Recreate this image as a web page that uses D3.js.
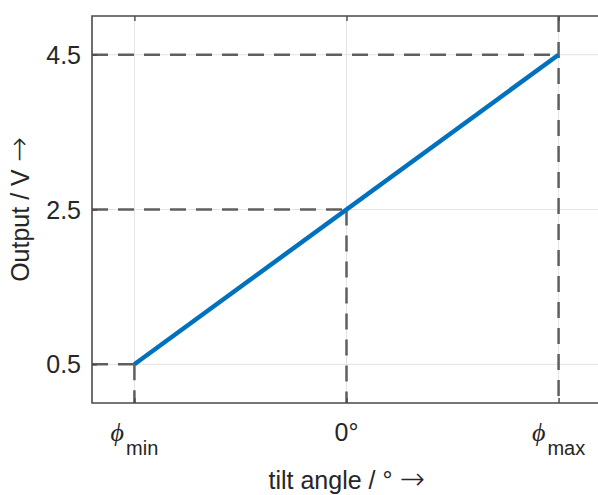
<!DOCTYPE html>
<html>
<head>
<meta charset="utf-8">
<script src="https://cdn.jsdelivr.net/npm/d3@7"></script>
<style>
  body { margin: 0; background: #fff; }
  svg { display: block; font-family: "Liberation Sans", Arial, sans-serif; }
  .arrow { font-family: "DejaVu Sans", sans-serif; font-weight: 200; }
</style>
</head>
<body>
<div id="container"></div>
<script>
// data
const tilt = [-1, 1];          // phi_min .. phi_max (normalised)
const output = [0.5, 4.5];     // volts
const xTicks = [-1, 0, 1];
const xTickSubs = ["min", "", "max"];
const yTicks = [0.5, 2.5, 4.5];
const guideX = [-1, 0, 1];
const guideY = [0.5, 2.5, 4.5];

const w = 598, h = 495;
const padL = 92, padT = 16, padB = 403, padR = 601;

const xScale = d3.scaleLinear().domain([-1.2, 1.2]).range([padL, padR]);
const yScale = d3.scaleLinear().domain([0, 5]).range([padB, padT]);

const svg = d3.select("#container").append("svg")
  .attr("width", w).attr("height", h);

// grid
svg.append("g").selectAll("line").data(xTicks).enter().append("line")
  .attr("x1", d => xScale(d)).attr("x2", d => xScale(d))
  .attr("y1", padT).attr("y2", padB)
  .attr("stroke", "#e3e3e3").attr("stroke-width", 1);
svg.append("g").selectAll("line").data(yTicks).enter().append("line")
  .attr("y1", d => yScale(d)).attr("y2", d => yScale(d))
  .attr("x1", padL).attr("x2", padR)
  .attr("stroke", "#e3e3e3").attr("stroke-width", 1);

// dashed guides
const guides = svg.append("g")
  .attr("stroke", "#5f5f5f").attr("stroke-width", 2.5)
  .attr("stroke-dasharray", "16,10").attr("fill", "none");
guideX.forEach((gx, i) => {
  const gy = guideY[i];
  guides.append("line")
    .attr("x1", padL).attr("x2", xScale(gx))
    .attr("y1", yScale(gy)).attr("y2", yScale(gy));
  guides.append("line")
    .attr("x1", xScale(gx)).attr("x2", xScale(gx))
    .attr("y1", i === guideX.length - 1 ? padT : yScale(gy)).attr("y2", padB);
});

// characteristic line
svg.append("path")
  .datum(tilt.map((t, i) => [t, output[i]]))
  .attr("d", d3.line().x(d => xScale(d[0])).y(d => yScale(d[1])))
  .attr("fill", "none").attr("stroke", "#0072BD").attr("stroke-width", 4.5);

// box + inward ticks
const axisCol = "#4a4a4a";
svg.append("path")
  .attr("d", `M${padR},${padT}H${padL}V${padB}H${padR}`)
  .attr("fill", "none").attr("stroke", axisCol).attr("stroke-width", 1.6);

const xAxisB = d3.axisBottom(xScale).tickValues(xTicks).tickSize(-5).tickFormat("");
const xAxisT = d3.axisTop(xScale).tickValues(xTicks).tickSize(-5).tickFormat("");
const yAxisL = d3.axisLeft(yScale).tickValues(yTicks).tickSize(-5).tickFormat("");
[[xAxisB, `translate(0,${padB})`], [xAxisT, `translate(0,${padT})`], [yAxisL, `translate(${padL},0)`]]
  .forEach(([ax, tr]) => {
    const g = svg.append("g").attr("transform", tr).call(ax);
    g.select(".domain").remove();
    g.selectAll("line").attr("stroke", axisCol).attr("stroke-width", 1.4);
  });

// y tick labels
svg.append("g").selectAll("text").data(yTicks).enter().append("text")
  .attr("x", 81).attr("y", d => yScale(d))
  .attr("dy", "0.36em").attr("text-anchor", "end")
  .attr("font-size", 25).attr("fill", "#262626")
  .text(d => d.toFixed(1));

// x tick labels
const xl = svg.append("g").selectAll("text").data(xTicks).enter().append("text")
  .attr("x", d => xScale(d)).attr("y", 441)
  .attr("text-anchor", "middle").attr("fill", "#262626");
xl.each(function (d, i) {
  const t = d3.select(this);
  if (xTickSubs[i] === "") {
    t.attr("font-size", 25).text("0°");
  } else {
    t.append("tspan").attr("font-family", "'Liberation Serif', serif")
      .attr("font-style", "italic").attr("font-size", 26).text("ϕ");
    t.append("tspan").attr("font-size", 20).attr("dy", 14).attr("dx", 2).text(xTickSubs[i]);
  }
});

// axis titles
const xt = svg.append("text")
  .attr("x", xScale(0)).attr("y", 489)
  .attr("text-anchor", "middle").attr("font-size", 25).attr("fill", "#262626");
xt.append("tspan").text("tilt angle / ° ");
xt.append("tspan").attr("class", "arrow").attr("font-size", 30).text("→");

const yt = svg.append("text")
  .attr("transform", `translate(29,${(padT + padB) / 2}) rotate(-90)`)
  .attr("text-anchor", "middle").attr("font-size", 25).attr("fill", "#262626");
yt.append("tspan").text("Output / V ");
yt.append("tspan").attr("class", "arrow").attr("font-size", 30).text("→");
</script>
</body>
</html>
